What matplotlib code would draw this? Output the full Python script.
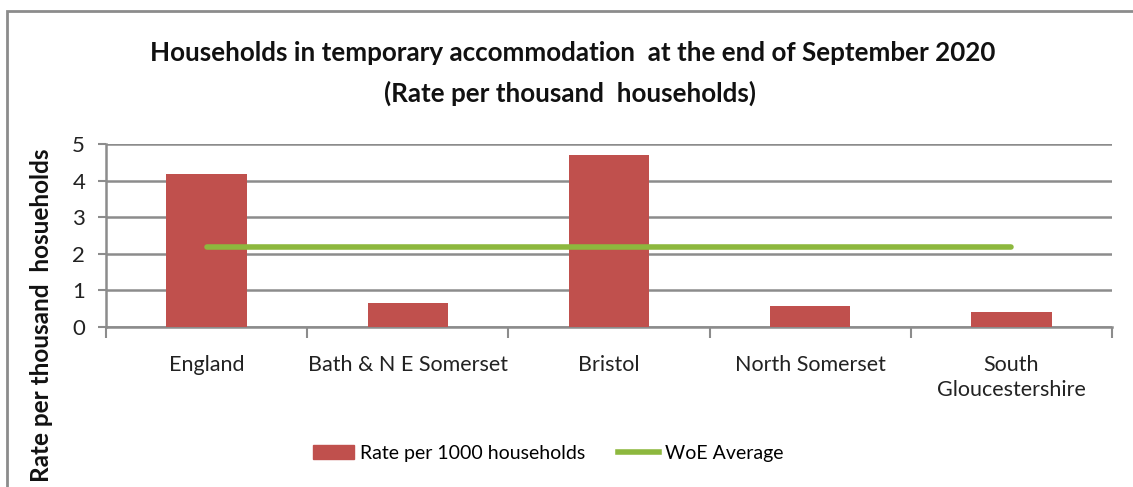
import matplotlib
matplotlib.use("Agg")
import matplotlib.pyplot as plt
from matplotlib.patches import Rectangle, Patch
from matplotlib.lines import Line2D

categories = ["England", "Bath & N E Somerset", "Bristol", "North Somerset", "South\nGloucestershire"]
rates = [4.18, 0.66, 4.70, 0.57, 0.42]
woe_average = [2.19, 2.19, 2.19, 2.19, 2.19]
yticks = [0, 1, 2, 3, 4, 5]

plt.rcParams['font.family'] = ['Lato', 'DejaVu Sans']

W, H = 1133, 487
fig = plt.figure(figsize=(W / 100, H / 100), dpi=100)

# border
fig.patches.append(Rectangle((7 / W, -0.05), 1.2, 1 - 11 / H + 0.05, transform=fig.transFigure,
                             fill=False, edgecolor='#8c8c8c', linewidth=2, zorder=0))

ax = fig.add_axes([106 / W, 1 - 327 / H, (1112 - 106) / W, (327 - 144) / H])

x = list(range(len(categories)))
bar_color = '#C0504D'
line_color = '#8DB83E'
grid_color = '#8c8c8c'

ax.bar(x, rates, width=0.4, color=bar_color, zorder=3)
ax.plot(x, woe_average, color=line_color, linewidth=4, solid_capstyle='round', zorder=4)

ax.set_xlim(-0.5, len(categories) - 0.5)
ax.set_ylim(0, 5)
ax.set_yticks(yticks)
ax.set_yticklabels([str(v) for v in yticks], fontsize=16, color='#222222')
ax.yaxis.grid(True, color=grid_color, linewidth=1.8, zorder=1)
ax.set_axisbelow(True)

ax.set_xticks(x)
ax.set_xticklabels(categories, fontsize=15.5, color='#222222', linespacing=1.35)
ax.tick_params(axis='x', length=0, pad=20)
ax.tick_params(axis='y', length=6, width=1.5, color=grid_color, pad=9)
# category boundary ticks
ax.set_xticks([i - 0.5 for i in range(len(categories) + 1)], minor=True)
ax.tick_params(axis='x', which='minor', length=8, width=1.5, color=grid_color)

for s in ['top', 'right']:
    ax.spines[s].set_visible(False)
for s in ['left', 'bottom']:
    ax.spines[s].set_color(grid_color)
    ax.spines[s].set_linewidth(1.8)

fig.text(573 / W, 1 - 53 / H, "Households in temporary accommodation  at the end of September 2020",
         ha='center', va='center', fontsize=18.7, fontweight='bold', color='#111111')
fig.text(570 / W, 1 - 93 / H, "(Rate per thousand  households)",
         ha='center', va='center', fontsize=18.7, fontweight='bold', color='#111111')

fig.text(42 / W, 1 - 315 / H, "Rate per thousand  hosueholds", rotation=90,
         ha='center', va='center', fontsize=17.5, fontweight='bold', color='#111111')

handles = [Patch(facecolor=bar_color, edgecolor=bar_color),
           Line2D([0], [0], color=line_color, linewidth=4)]
fig.legend(handles, ["Rate per 1000 households", "WoE Average"], loc='center',
           bbox_to_anchor=(548 / W, 1 - 453 / H), ncol=2, frameon=False, fontsize=14,
           handlelength=2.1, handletextpad=0.3, columnspacing=1.7)

fig.savefig("out.png", dpi=100)
